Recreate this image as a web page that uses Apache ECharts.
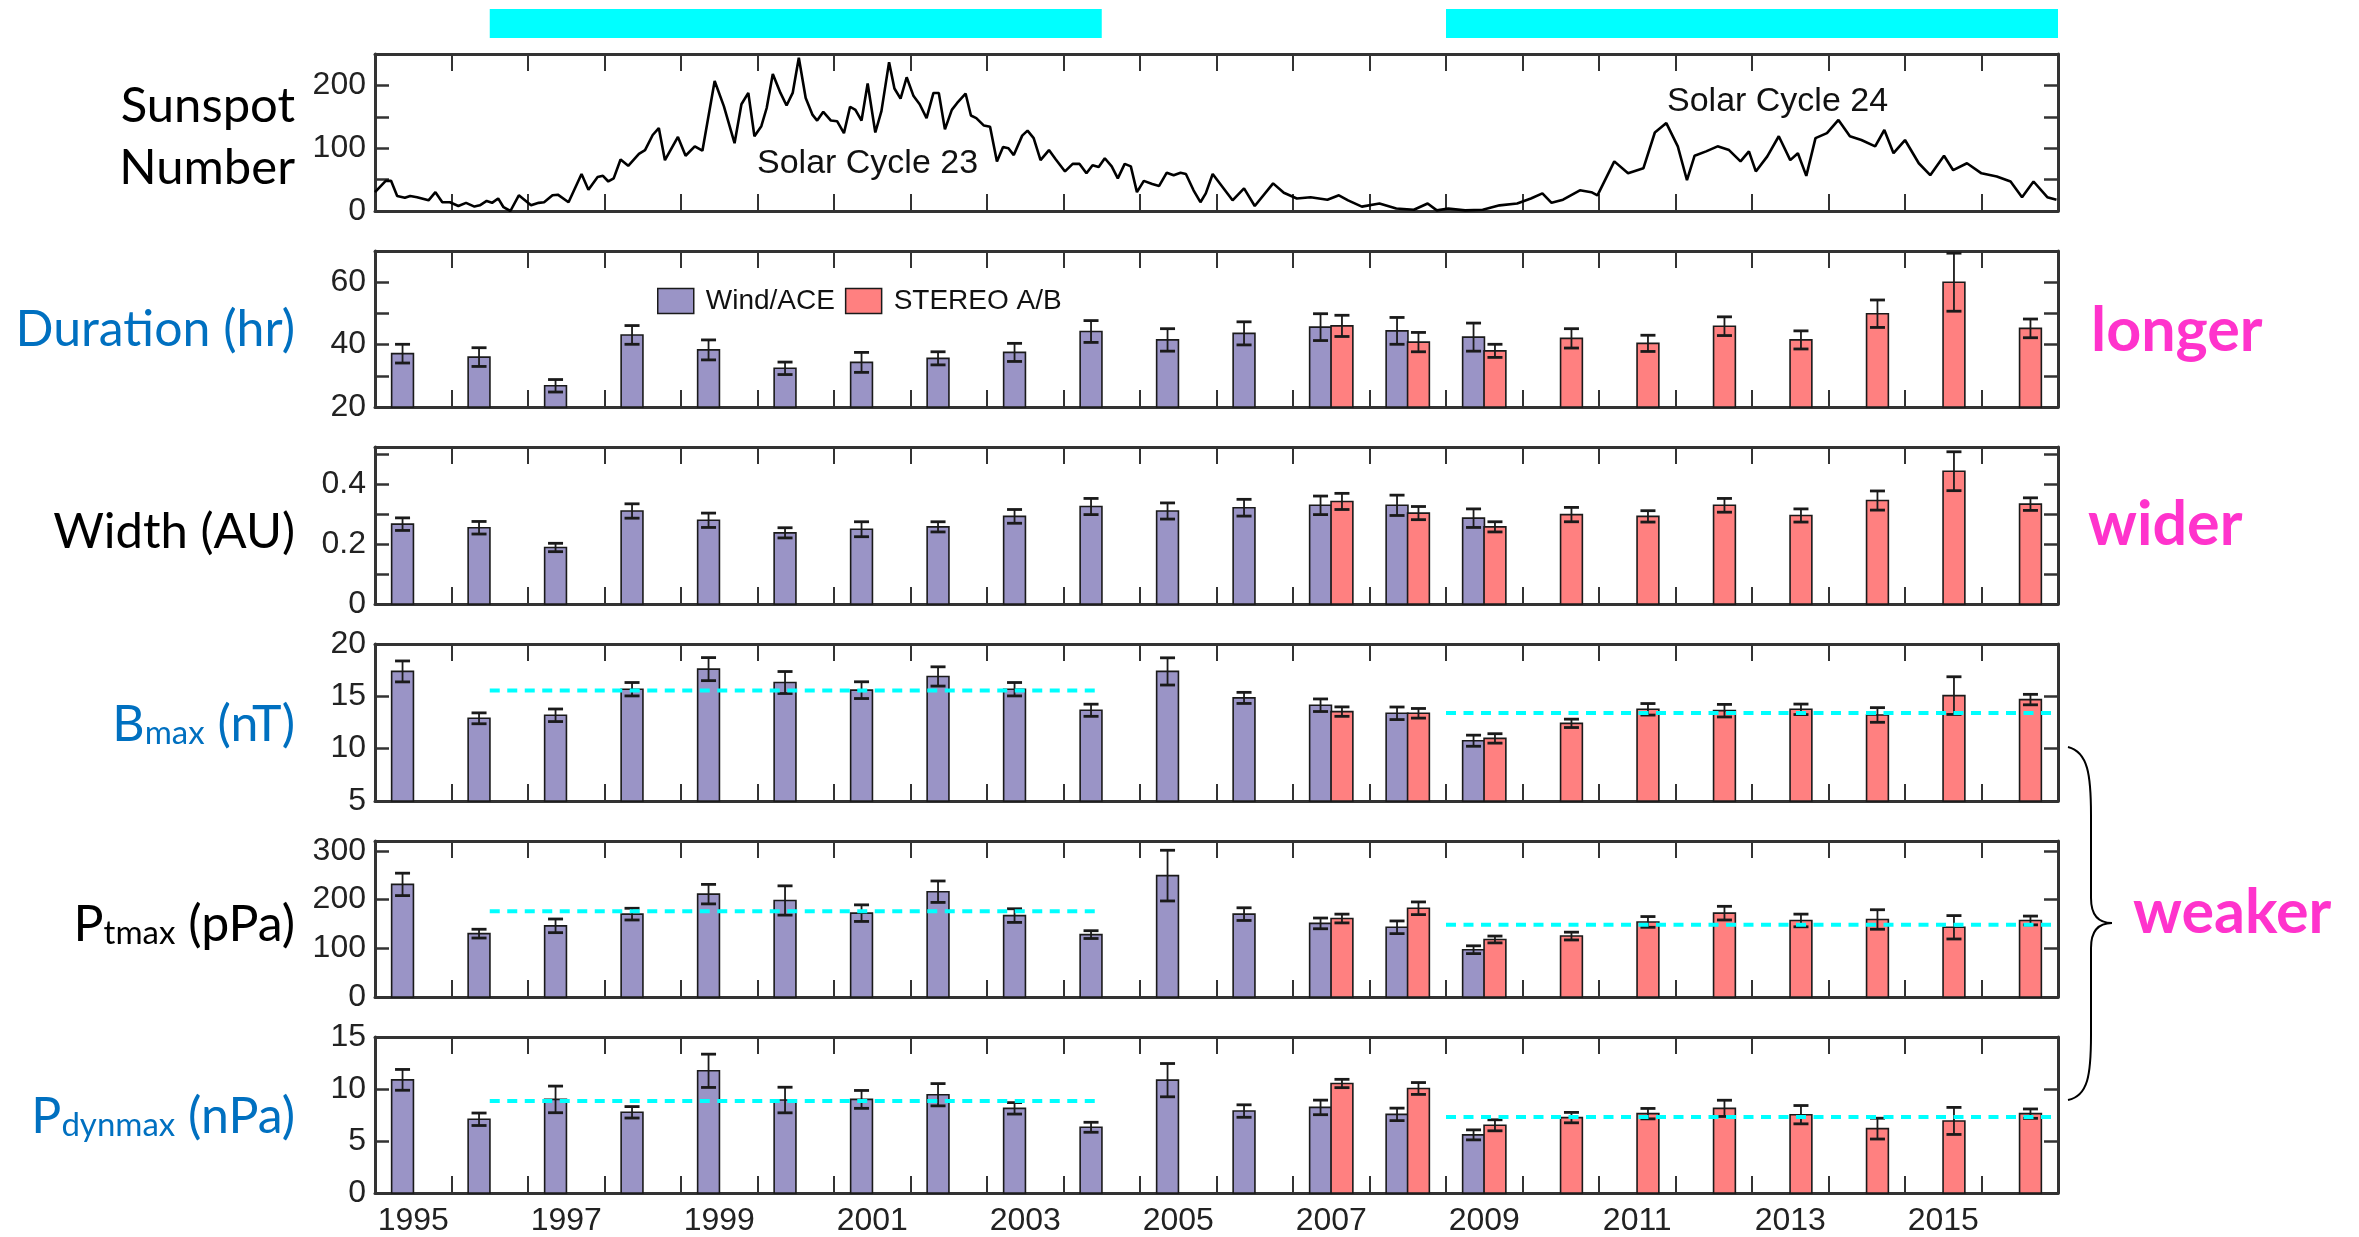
<!DOCTYPE html>
<html><head><meta charset="utf-8">
<script src="https://cdn.jsdelivr.net/npm/echarts@6/dist/echarts.min.js"></script>
<style>html,body{margin:0;padding:0;background:#fff}#c{width:2359px;height:1237px}</style>
</head><body><div id="c"></div>
<script>
// ---------------- DATA ----------------
const yearCategories = ['1995','1996','1997','1998','1999','2000','2001','2002','2003','2004','2005','2006','2007','2008','2009','2010','2011','2012','2013','2014','2015','2016'];
const windYears = [1995,1996,1997,1998,1999,2000,2001,2002,2003,2004,2005,2006,2007,2008,2009];
const stereoYears = [2007,2008,2009,2010,2011,2012,2013,2014,2015,2016];

const durationWind = [37.1,36.0,26.8,43.1,38.3,32.4,34.3,35.6,37.5,44.2,41.5,43.6,45.6,44.4,42.4];
const durationWindErr = [3.0,3.0,2.0,3.0,3.2,2.0,3.2,2.1,2.9,3.5,3.6,3.7,4.3,4.3,4.5];
const durationStereo = [46.0,40.8,38.0,42.0,40.4,45.9,41.5,49.9,60.0,45.2];
const durationStereoErr = [3.4,3.1,2.1,3.1,2.6,3.0,2.9,4.4,9.3,3.0];

const widthWind = [0.267,0.255,0.189,0.311,0.280,0.238,0.250,0.258,0.293,0.326,0.311,0.322,0.330,0.330,0.287];
const widthWindErr = [0.021,0.021,0.014,0.024,0.024,0.017,0.025,0.017,0.023,0.027,0.027,0.028,0.031,0.034,0.031];
const widthStereo = [0.343,0.304,0.258,0.299,0.293,0.330,0.296,0.346,0.444,0.334];
const widthStereoErr = [0.027,0.022,0.017,0.024,0.019,0.023,0.022,0.032,0.065,0.021];

const bmaxWind = [17.38,12.90,13.19,15.68,17.60,16.32,15.59,16.90,15.68,13.67,17.38,14.85,14.15,13.38,10.76];
const bmaxWindErr = [1.0,0.52,0.6,0.64,1.1,1.05,0.8,0.92,0.64,0.58,1.3,0.53,0.6,0.6,0.53];
const bmaxStereo = [13.54,13.38,10.98,12.42,13.76,13.63,13.76,13.22,15.07,14.69];
const bmaxStereoErr = [0.45,0.46,0.45,0.4,0.55,0.6,0.5,0.7,1.8,0.5];

const ptmaxWind = [231,130,146,170,211,198,172,216,167,128,249,170,151,143,97];
const ptmaxWindErr = [23,9,14,12,20,30,17,22,14,8,52,13,11,13,8];
const ptmaxStereo = [161,182,118,125,154,172,157,159,143,157];
const ptmaxStereoErr = [9,13,7,8,11,14,13,20,24,9];

const pdynWind = [10.88,7.09,9.0,7.76,11.75,8.94,9.0,9.45,8.14,6.32,10.85,7.88,8.23,7.56,5.59];
const pdynWindErr = [1.0,0.6,1.28,0.55,1.6,1.23,0.86,1.07,0.55,0.48,1.6,0.6,0.7,0.6,0.48];
const pdynStereo = [10.53,10.05,6.51,7.25,7.63,8.14,7.53,6.19,6.93,7.63];
const pdynStereoErr = [0.4,0.57,0.53,0.5,0.5,0.78,0.88,1.0,1.3,0.45];

// solar-cycle periods (cyan bars) and period means (cyan dashed lines)
const cycleStart = [1996.5, 2009.0];
const cycleEnd = [2004.5, 2017.0];
const bmaxMean = [15.55, 13.4];
const ptmaxMean = [176, 148];
const pdynMean = [8.85, 7.3];

// y tick labels
const sunspotTicks = [0,100,200];
const durationTicks = [20,40,60];
const widthTicks = [0,0.2,0.4];
const bmaxTicks = [5,10,15,20];
const ptmaxTicks = [0,100,200,300];
const pdynTicks = [0,5,10,15];

// monthly sunspot number
const sunspotYear = [1995.00,1995.14,1995.21,1995.29,1995.39,1995.46,1995.55,1995.70,1995.79,1995.88,1995.98,1996.09,1996.19,1996.30,1996.37,1996.46,1996.53,1996.61,1996.68,1996.77,1996.88,1997.04,1997.14,1997.21,1997.32,1997.39,1997.53,1997.70,1997.79,1997.91,1997.98,1998.05,1998.12,1998.21,1998.31,1998.45,1998.53,1998.63,1998.71,1998.79,1998.96,1999.06,1999.18,1999.28,1999.44,1999.56,1999.70,1999.79,1999.88,1999.96,2000.05,2000.12,2000.20,2000.30,2000.38,2000.46,2000.54,2000.63,2000.72,2000.78,2000.86,2000.96,2001.04,2001.13,2001.21,2001.28,2001.36,2001.44,2001.54,2001.62,2001.72,2001.79,2001.87,2001.95,2002.04,2002.12,2002.21,2002.30,2002.37,2002.45,2002.54,2002.61,2002.72,2002.79,2002.86,2002.96,2003.04,2003.13,2003.21,2003.28,2003.35,2003.46,2003.53,2003.61,2003.70,2003.81,2003.90,2004.02,2004.12,2004.21,2004.30,2004.38,2004.46,2004.54,2004.63,2004.71,2004.80,2004.88,2004.96,2005.05,2005.16,2005.25,2005.35,2005.44,2005.53,2005.60,2005.70,2005.79,2005.86,2005.95,2006.21,2006.36,2006.50,2006.74,2006.88,2007.05,2007.23,2007.45,2007.60,2007.72,2007.90,2008.13,2008.35,2008.58,2008.76,2008.88,2009.03,2009.25,2009.48,2009.70,2009.93,2010.11,2010.26,2010.38,2010.53,2010.75,2010.90,2010.98,2011.20,2011.38,2011.58,2011.73,2011.88,2012.03,2012.15,2012.25,2012.40,2012.55,2012.70,2012.85,2012.96,2013.05,2013.20,2013.35,2013.50,2013.60,2013.71,2013.83,2013.98,2014.13,2014.28,2014.43,2014.61,2014.73,2014.85,2015.00,2015.18,2015.33,2015.51,2015.63,2015.81,2016.00,2016.20,2016.38,2016.53,2016.68,2016.86,2016.98];
const sunspotNumber = [30,48,48,24,21,24,22,17,30,14,14,8,13,7,9,16,13,20,6,0,25,9,13,14,25,26,14,59,34,54,56,47,52,82,72,91,97,121,132,81,118,88,103,96,207,167,108,170,188,119,135,164,218,188,168,188,244,180,153,144,158,144,143,124,166,161,144,203,125,159,237,195,179,213,183,170,148,188,188,130,161,172,187,152,148,136,134,79,102,100,89,120,128,116,81,97,82,63,75,75,60,73,70,84,71,52,75,71,30,48,43,40,61,57,61,59,33,14,28,59,17,36,8,44,29,20,22,18,25,17,7,12,4,2,12,1,4,1,2,9,12,20,28,13,18,33,30,25,79,60,68,125,140,103,49,88,95,103,97,79,95,63,87,119,81,92,56,116,124,145,119,113,103,129,92,113,76,57,88,65,76,60,55,47,22,47,22,18];

// ---------------- STYLE / LAYOUT ----------------
const WIND_COLOR = '#9a94c6';
const STEREO_COLOR = '#ff8080';
const GRID_LEFT = 375, GRID_RIGHT = 301;
const AX = '#333';
const TICK_FONT = 'Liberation Sans';
const TICK_SIZE = 32;

const panels = [
  {top:54,  h:157, min:0,  max:250,  step:50,  ticks:sunspotTicks},
  {top:251, h:156, min:20, max:70,   step:10,  ticks:durationTicks, w:durationWind, we:durationWindErr, s:durationStereo, se:durationStereoErr},
  {top:447, h:157, min:0,  max:0.525,step:0.1, ticks:widthTicks, w:widthWind, we:widthWindErr, s:widthStereo, se:widthStereoErr},
  {top:644, h:157, min:5,  max:20,   step:5,   ticks:bmaxTicks, w:bmaxWind, we:bmaxWindErr, s:bmaxStereo, se:bmaxStereoErr, mean:bmaxMean},
  {top:841, h:156, min:0,  max:320,  step:100, ticks:ptmaxTicks, w:ptmaxWind, we:ptmaxWindErr, s:ptmaxStereo, se:ptmaxStereoErr, mean:ptmaxMean},
  {top:1037,h:156, min:0,  max:15,   step:5,   ticks:pdynTicks, w:pdynWind, we:pdynWindErr, s:pdynStereo, se:pdynStereoErr, mean:pdynMean}
];

const grid = [], xAxis = [], yAxis = [], series = [];
const lastIdx = panels.length - 1;

panels.forEach((p, gi) => {
  grid.push({left:GRID_LEFT, right:GRID_RIGHT, top:p.top, height:p.h});
  xAxis.push({
    type:'category', gridIndex:gi, data:yearCategories, position:'bottom', boundaryGap:true,
    axisLine:{show:true, onZero:false, lineStyle:{color:AX, width:3}},
    axisTick:{show:true, inside:true, length:17, interval:0, lineStyle:{color:AX, width:2}},
    axisLabel:{show: gi===lastIdx, interval:1, fontSize:TICK_SIZE, fontFamily:TICK_FONT, color:'#222', margin:12},
    splitLine:{show:false}
  });
  xAxis.push({
    type:'value', gridIndex:gi, min:1995, max:2017, interval:1, position:'top',
    axisLine:{show:true, onZero:false, lineStyle:{color:AX, width:3}},
    axisTick:{show:true, inside:true, length:17, lineStyle:{color:AX, width:2}},
    axisLabel:{show:false}, splitLine:{show:false}
  });
  const fmt = v => p.ticks.some(t => Math.abs(t - v) < 1e-6) ? String(+(+v).toFixed(2)) : '';
  yAxis.push({
    type:'value', gridIndex:gi, min:p.min, max:p.max, interval:p.step, position:'left',
    axisLine:{show:true, onZero:false, lineStyle:{color:AX, width:3}},
    axisTick:{show:true, inside:true, length:14, lineStyle:{color:AX, width:2.5}},
    axisLabel:{show:true, formatter:fmt, fontSize:TICK_SIZE, fontFamily:TICK_FONT, color:'#222', margin:9},
    splitLine:{show:false}
  });
  yAxis.push({
    type:'value', gridIndex:gi, min:p.min, max:p.max, interval:p.step, position:'right',
    axisLine:{show:true, onZero:false, lineStyle:{color:AX, width:3}},
    axisTick:{show:true, inside:true, length:14, lineStyle:{color:AX, width:2.5}},
    axisLabel:{show:false}, splitLine:{show:false}
  });

  if (p.w) {
    series.push(barSeries('Wind/ACE', gi, windYears, p.w, p.we, WIND_COLOR, 0.36, p.min));
    series.push(barSeries('STEREO A/B', gi, stereoYears, p.s, p.se, STEREO_COLOR, 0.64, p.min));
  }
  if (p.mean) {
    series.push({
      type:'custom', xAxisIndex:2*gi+1, yAxisIndex:2*gi, z:6, silent:true,
      data: p.mean.map((m,k) => [cycleStart[k], cycleEnd[k], m]),
      encode:{x:[0,1], y:2},
      renderItem:(params, api) => {
        const a = api.coord([api.value(0), api.value(2)]);
        const b = api.coord([api.value(1), api.value(2)]);
        return {type:'line', shape:{x1:a[0], y1:a[1], x2:b[0], y2:b[1]},
          style:{stroke:'#00ffff', lineWidth:4, lineDash:[10,7.5]}};
      }
    });
  }
});

function barSeries(name, gi, yrs, vals, errs, color, offset, base) {
  return {
    type:'custom', name, xAxisIndex:2*gi+1, yAxisIndex:2*gi, z:4,
    itemStyle:{color},
    data: yrs.map((y,k) => [y, vals[k], errs[k]]),
    encode:{x:0, y:1},
    renderItem:(params, api) => {
      const x = api.value(0) + offset, v = api.value(1), e = api.value(2);
      const bw = api.size([0.285, 0])[0];
      const pt = api.coord([x, v]), pb = api.coord([x, base]);
      const hi = api.coord([x, v + e]), lo = api.coord([x, v - e]);
      const cap = 7.5;
      return {type:'group', children:[
        {type:'rect', shape:{x:pt[0]-bw/2, y:pt[1], width:bw, height:pb[1]-pt[1]},
          style:{fill:color, stroke:'#1a1a1a', lineWidth:1.6}},
        {type:'line', shape:{x1:pt[0], y1:hi[1], x2:pt[0], y2:lo[1]}, style:{stroke:'#1a1a1a', lineWidth:1.8}},
        {type:'line', shape:{x1:pt[0]-cap, y1:hi[1], x2:pt[0]+cap, y2:hi[1]}, style:{stroke:'#1a1a1a', lineWidth:2.8}},
        {type:'line', shape:{x1:pt[0]-cap, y1:lo[1], x2:pt[0]+cap, y2:lo[1]}, style:{stroke:'#1a1a1a', lineWidth:2.8}}
      ]};
    }
  };
}

// sunspot line
series.push({
  type:'line', xAxisIndex:1, yAxisIndex:0, showSymbol:false, z:5,
  data: sunspotYear.map((t,k) => [t, sunspotNumber[k]]),
  lineStyle:{color:'#000', width:2.6}, silent:true
});

// cyan solar-cycle bars on top
grid.push({left:GRID_LEFT, right:GRID_RIGHT, top:9, height:29});
xAxis.push({type:'value', gridIndex:6, min:1995, max:2017, show:false});
yAxis.push({type:'value', gridIndex:6, min:0, max:1, show:false});
series.push({
  type:'custom', xAxisIndex:12, yAxisIndex:12, silent:true,
  data: cycleStart.map((s,k) => [s, cycleEnd[k]]),
  encode:{x:[0,1]},
  renderItem:(params, api) => {
    const a = api.coord([api.value(0), 1]);
    const b = api.coord([api.value(1), 0]);
    return {type:'rect', shape:{x:a[0], y:a[1], width:b[0]-a[0], height:b[1]-a[1]}, style:{fill:'#00ffff'}};
  }
});

const LBL = 'Lato';
const LBL_SIZE = 50;
const subRich = (c) => ({
  a:{fontSize:LBL_SIZE, fontFamily:LBL, fill:c, verticalAlign:'bottom', lineHeight:60},
  s:{fontSize:33, fontFamily:LBL, fill:c, verticalAlign:'bottom', lineHeight:48}
});
const BLUE = '#0070c0', MAG = '#ff33cc';
const plain = (x, y, text, fill, extra) => ({type:'text', x, y, style:Object.assign({text, fontSize:LBL_SIZE, fontFamily:LBL, fill, align:'right', verticalAlign:'middle'}, extra || {})});

const graphic = [
  plain(295, 106, 'Sunspot', '#000', {fontSize:49}),
  plain(295, 168, 'Number', '#000', {fontSize:49}),
  plain(295, 330, 'Duration (hr)', BLUE),
  plain(295, 532, 'Width (AU)', '#000', {fontSize:49}),
  {type:'text', x:295, y:720, style:{text:'{a|B}{s|max}{a| (nT)}', rich:subRich(BLUE), fill:BLUE, align:'right', verticalAlign:'middle'}},
  {type:'text', x:295, y:920, style:{text:'{a|P}{s|tmax}{a| (pPa)}', rich:subRich('#000'), fill:'#000', align:'right', verticalAlign:'middle'}},
  {type:'text', x:295, y:1112, style:{text:'{a|P}{s|dynmax}{a| (nPa)}', rich:subRich(BLUE), fill:BLUE, align:'right', verticalAlign:'middle'}},
  plain(2091, 331, 'longer', MAG, {fontSize:61, fontWeight:'bold', align:'left'}),
  plain(2088, 525, 'wider', MAG, {fontSize:61, fontWeight:'bold', align:'left'}),
  plain(2133, 913, 'weaker', MAG, {fontSize:61, fontWeight:'bold', align:'left'}),
  {type:'text', x:757, y:164, style:{text:'Solar Cycle 23', fontSize:34, fontFamily:TICK_FONT, fill:'#111', align:'left', verticalAlign:'middle'}},
  {type:'text', x:1667, y:102, style:{text:'Solar Cycle 24', fontSize:34, fontFamily:TICK_FONT, fill:'#111', align:'left', verticalAlign:'middle'}},
  // curly brace
  {type:'bezierCurve', shape:{x1:2068, y1:747, cpx1:2088, cpy1:752, cpx2:2091, cpy2:775, x2:2091, y2:815}, style:{stroke:'#000', lineWidth:2, fill:null}},
  {type:'line', shape:{x1:2091, y1:815, x2:2091, y2:898}, style:{stroke:'#000', lineWidth:2}},
  {type:'bezierCurve', shape:{x1:2091, y1:898, cpx1:2091, cpy1:915, cpx2:2098, cpy2:923, x2:2112, y2:923}, style:{stroke:'#000', lineWidth:2, fill:null}},
  {type:'bezierCurve', shape:{x1:2112, y1:923, cpx1:2098, cpy1:923, cpx2:2091, cpy2:931, x2:2091, y2:948}, style:{stroke:'#000', lineWidth:2, fill:null}},
  {type:'line', shape:{x1:2091, y1:948, x2:2091, y2:1035}, style:{stroke:'#000', lineWidth:2}},
  {type:'bezierCurve', shape:{x1:2091, y1:1035, cpx1:2091, cpy1:1075, cpx2:2088, cpy2:1096, x2:2068, y2:1100}, style:{stroke:'#000', lineWidth:2, fill:null}}
];

const chart = echarts.init(document.getElementById('c'), null, {renderer:'canvas'});
chart.setOption({
  animation:false,
  backgroundColor:'#fff',
  grid, xAxis, yAxis, series, graphic,
  legend:{
    left:657, top:287, itemWidth:36, itemHeight:25, itemGap:10, padding:0,
    data:[{name:'Wind/ACE', icon:'rect'}, {name:'STEREO A/B', icon:'rect'}],
    itemStyle:{borderColor:'#1a1a1a', borderWidth:1.5},
    textStyle:{fontSize:28, fontFamily:TICK_FONT, color:'#111', padding:[0,0,0,7]}
  }
});
</script></body></html>
